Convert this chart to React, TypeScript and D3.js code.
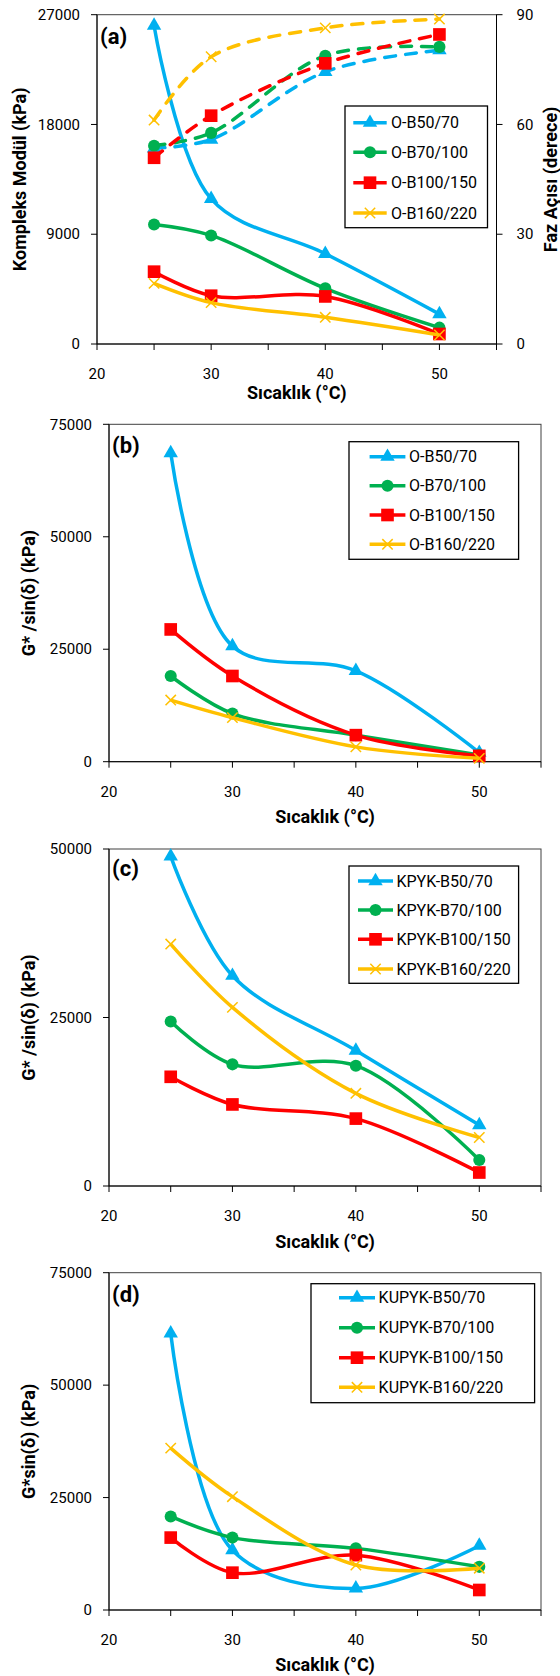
import React from 'react';
import * as d3 from 'd3';

// temperatures (°C) on the x axis
const temps = [25, 30, 40, 50];
const xTicks = [20, 25, 30, 35, 40, 45, 50, 55];
const xLabels = [20, 30, 40, 50];

const namesO = ['O-B50/70', 'O-B70/100', 'O-B100/150', 'O-B160/220'];
const namesKPYK = ['KPYK-B50/70', 'KPYK-B70/100', 'KPYK-B100/150', 'KPYK-B160/220'];
const namesKUPYK = ['KUPYK-B50/70', 'KUPYK-B70/100', 'KUPYK-B100/150', 'KUPYK-B160/220'];

// (a) complex modulus, kPa (left axis)
const aModB50 = [26100, 11900, 7400, 2450];
const aModB70 = [9800, 8900, 4560, 1340];
const aModB100 = [5930, 3960, 3900, 820];
const aModB160 = [4970, 3390, 2190, 740];
// (a) phase angle, degrees (right axis)
const aPhaseB50 = [53.5, 55.9, 74.4, 80.3];
const aPhaseB70 = [54.2, 57.7, 78.8, 81.2];
const aPhaseB100 = [50.9, 62.4, 76.7, 84.6];
const aPhaseB160 = [61.2, 78.5, 86.4, 88.8];

// (b) G*/sin(δ), kPa
const bB50 = [68600, 25700, 20200, 2000];
const bB70 = [19050, 10700, 5900, 1500];
const bB100 = [29400, 19050, 5900, 1300];
const bB160 = [13700, 9800, 3300, 740];

// (c) G*/sin(δ), kPa
const cB50 = [48900, 31200, 20100, 9050];
const cB70 = [24400, 18050, 17850, 3860];
const cB100 = [16200, 12100, 10000, 2000];
const cB160 = [35900, 26500, 13750, 7200];

// (d) G*sin(δ), kPa
const dB50 = [61500, 13300, 4800, 14300];
const dB70 = [20800, 16100, 13700, 9600];
const dB100 = [16100, 8300, 12200, 4450];
const dB160 = [36000, 25200, 10000, 9300];

const colors = ['#00B0F0', '#00B050', '#FF0000', '#FFC000'];
const markerKinds = ['triangle', 'circle', 'square', 'x'];
const font = 'Roboto, Arial, sans-serif';

function Marker({ kind, x, y, color }: any) {
  if (kind === 'x') {
    const p = d3.symbol().type(d3.symbolX).size(72)();
    return <path d={p as string} transform={`translate(${x},${y})`} fill="none" stroke={color} strokeWidth={1.5} />;
  }
  const type = kind === 'triangle' ? d3.symbolTriangle : kind === 'circle' ? d3.symbolCircle : d3.symbolSquare;
  const size = kind === 'triangle' ? 90 : kind === 'circle' ? 115 : 160;
  const p = d3.symbol().type(type).size(size)();
  return <path d={p as string} transform={`translate(${x},${y})`} fill={color} />;
}

function Panel(props: any) {
  const { left, right, top, bottom, yMax, yStep, series, phase, legend, label, yTitle, titleY, yTitleX } = props;
  const x = d3.scaleLinear().domain([20, 55]).range([left, right]);
  const y = d3.scaleLinear().domain([0, yMax]).range([bottom, top]);
  const y2 = d3.scaleLinear().domain([0, 90]).range([bottom, top]);
  const yTicks = d3.range(0, yMax + 1, yStep);
  const line = (ys: any) =>
    d3
      .line<number>()
      .x((_, i) => x(temps[i]))
      .y((v) => ys(v))
      .curve(d3.curveCatmullRom.alpha(0.5));

  return (
    <g fontFamily={font}>
      <rect x={left} y={top} width={right - left} height={bottom - top} fill="none" stroke="#404040" strokeWidth={1} />
      {/* x axis */}
      <line x1={left} x2={right} y1={bottom} y2={bottom} stroke="#000" />
      {xTicks.map((t) => (
        <line key={t} x1={x(t)} x2={x(t)} y1={bottom} y2={bottom + 6} stroke="#000" />
      ))}
      {xLabels.map((t) => (
        <text key={t} x={x(t)} y={bottom + 30} dy="0.35em" textAnchor="middle" fontSize={15} fill="#000">
          {t}
        </text>
      ))}
      <text x={(left + right) / 2} y={titleY} dy="0.35em" textAnchor="middle" fontSize={18} fontWeight="bold">
        Sıcaklık (°C)
      </text>
      {/* y axis */}
      <line x1={left} x2={left} y1={top} y2={bottom} stroke="#000" />
      {yTicks.map((t) => (
        <g key={t}>
          <line x1={left - 6} x2={left} y1={y(t)} y2={y(t)} stroke="#000" />
          <text x={left - 17} y={y(t)} dy="0.35em" textAnchor="end" fontSize={15}>
            {t}
          </text>
        </g>
      ))}
      <text
        transform={`translate(${yTitleX},${(top + bottom) / 2}) rotate(-90)`}
        dy="0.35em"
        textAnchor="middle"
        fontSize={18}
        fontWeight="bold"
      >
        {yTitle}
      </text>
      {phase && (
        <g>
          <line x1={right} x2={right} y1={top} y2={bottom} stroke="#000" />
          {[0, 30, 60, 90].map((t) => (
            <g key={t}>
              <line x1={right} x2={right + 6} y1={y2(t)} y2={y2(t)} stroke="#000" />
              <text x={right + 20} y={y2(t)} dy="0.35em" fontSize={15}>
                {t}
              </text>
            </g>
          ))}
          <text
            transform={`translate(${right + 54},${(top + bottom) / 2}) rotate(-90)`}
            dy="0.35em"
            textAnchor="middle"
            fontSize={18}
            fontWeight="bold"
          >
            Faz Açısı (derece)
          </text>
        </g>
      )}
      {/* series */}
      {series.map((s: any, k: number) => (
        <g key={s.name}>
          <path d={line(y)(s.values) as string} fill="none" stroke={colors[k]} strokeWidth={3.5} strokeLinejoin="round" />
          {s.values.map((v: number, i: number) => (
            <Marker key={i} kind={markerKinds[k]} x={x(temps[i])} y={y(v)} color={colors[k]} />
          ))}
        </g>
      ))}
      {phase &&
        phase.map((vals: number[], k: number) => (
          <g key={k}>
            <path
              d={line(y2)(vals) as string}
              fill="none"
              stroke={colors[k]}
              strokeWidth={3.5}
              strokeDasharray="11,10"
              strokeLinecap="round"
            />
            {vals.map((v: number, i: number) => (
              <Marker key={i} kind={markerKinds[k]} x={x(temps[i])} y={y2(v)} color={colors[k]} />
            ))}
          </g>
        ))}
      <text x={left + 3} y={label.y} dy="0.35em" fontSize={22} fontWeight="bold">
        {label.text}
      </text>
      {/* legend */}
      <rect x={legend.x} y={legend.y} width={legend.w} height={legend.h} fill="#fff" stroke="#000" strokeWidth={1.3} />
      {series.map((s: any, k: number) => (
        <g key={s.name}>
          <line x1={legend.x0} x2={legend.x1} y1={legend.rows[k]} y2={legend.rows[k]} stroke={colors[k]} strokeWidth={3.5} />
          <Marker kind={markerKinds[k]} x={(legend.x0 + legend.x1) / 2} y={legend.rows[k]} color={colors[k]} />
          <text x={legend.tx} y={legend.rows[k]} dy="0.35em" fontSize={16}>
            {s.name}
          </text>
        </g>
      ))}
    </g>
  );
}

const mk = (names: string[], vals: number[][]) => names.map((n, i) => ({ name: n, values: vals[i] }));

export default function App() {
  return (
    <svg width={560} height={1676} style={{ position: 'absolute', left: 0, top: 0, background: '#fff' }}>
      <Panel
        left={97}
        right={496.5}
        top={14.7}
        bottom={344}
        yMax={27000}
        yStep={9000}
        series={mk(namesO, [aModB50, aModB70, aModB100, aModB160])}
        phase={[aPhaseB50, aPhaseB70, aPhaseB100, aPhaseB160]}
        legend={{ x: 345, y: 106, w: 142.5, h: 121.7, rows: [122.7, 152.3, 182.7, 213], x0: 353.3, x1: 386.7, tx: 391 }}
        label={{ text: '(a)', y: 36.5 }}
        yTitle="Kompleks Modül (kPa)"
        yTitleX={20}
        titleY={393}
      />
      <Panel
        left={109}
        right={541}
        top={424.3}
        bottom={761.7}
        yMax={75000}
        yStep={25000}
        series={mk(namesO, [bB50, bB70, bB100, bB160])}
        legend={{ x: 349, y: 441.7, w: 169.6, h: 117.6, rows: [456.7, 485.7, 515, 544.3], x0: 369.6, x1: 405.4, tx: 409 }}
        label={{ text: '(b)', y: 445.7 }}
        yTitle="G* /sin(δ) (kPa)"
        yTitleX={29}
        titleY={816.7}
      />
      <Panel
        left={109}
        right={541}
        top={849}
        bottom={1186}
        yMax={50000}
        yStep={25000}
        series={mk(namesKPYK, [cB50, cB70, cB100, cB160])}
        legend={{ x: 349, y: 866, w: 169.6, h: 117.3, rows: [881, 910, 939.3, 969], x0: 358, x1: 393, tx: 396.4 }}
        label={{ text: '(c)', y: 868.3 }}
        yTitle="G* /sin(δ) (kPa)"
        yTitleX={29}
        titleY={1241.7}
      />
      <Panel
        left={109}
        right={541}
        top={1272.7}
        bottom={1610}
        yMax={75000}
        yStep={25000}
        series={mk(namesKUPYK, [dB50, dB70, dB100, dB160])}
        legend={{ x: 311, y: 1283.7, w: 223.6, h: 119, rows: [1297.7, 1327.7, 1357.7, 1387.3], x0: 339, x1: 375, tx: 378.6 }}
        label={{ text: '(d)', y: 1294 }}
        yTitle="G*sin(δ) (kPa)"
        yTitleX={29}
        titleY={1665}
      />
    </svg>
  );
}
